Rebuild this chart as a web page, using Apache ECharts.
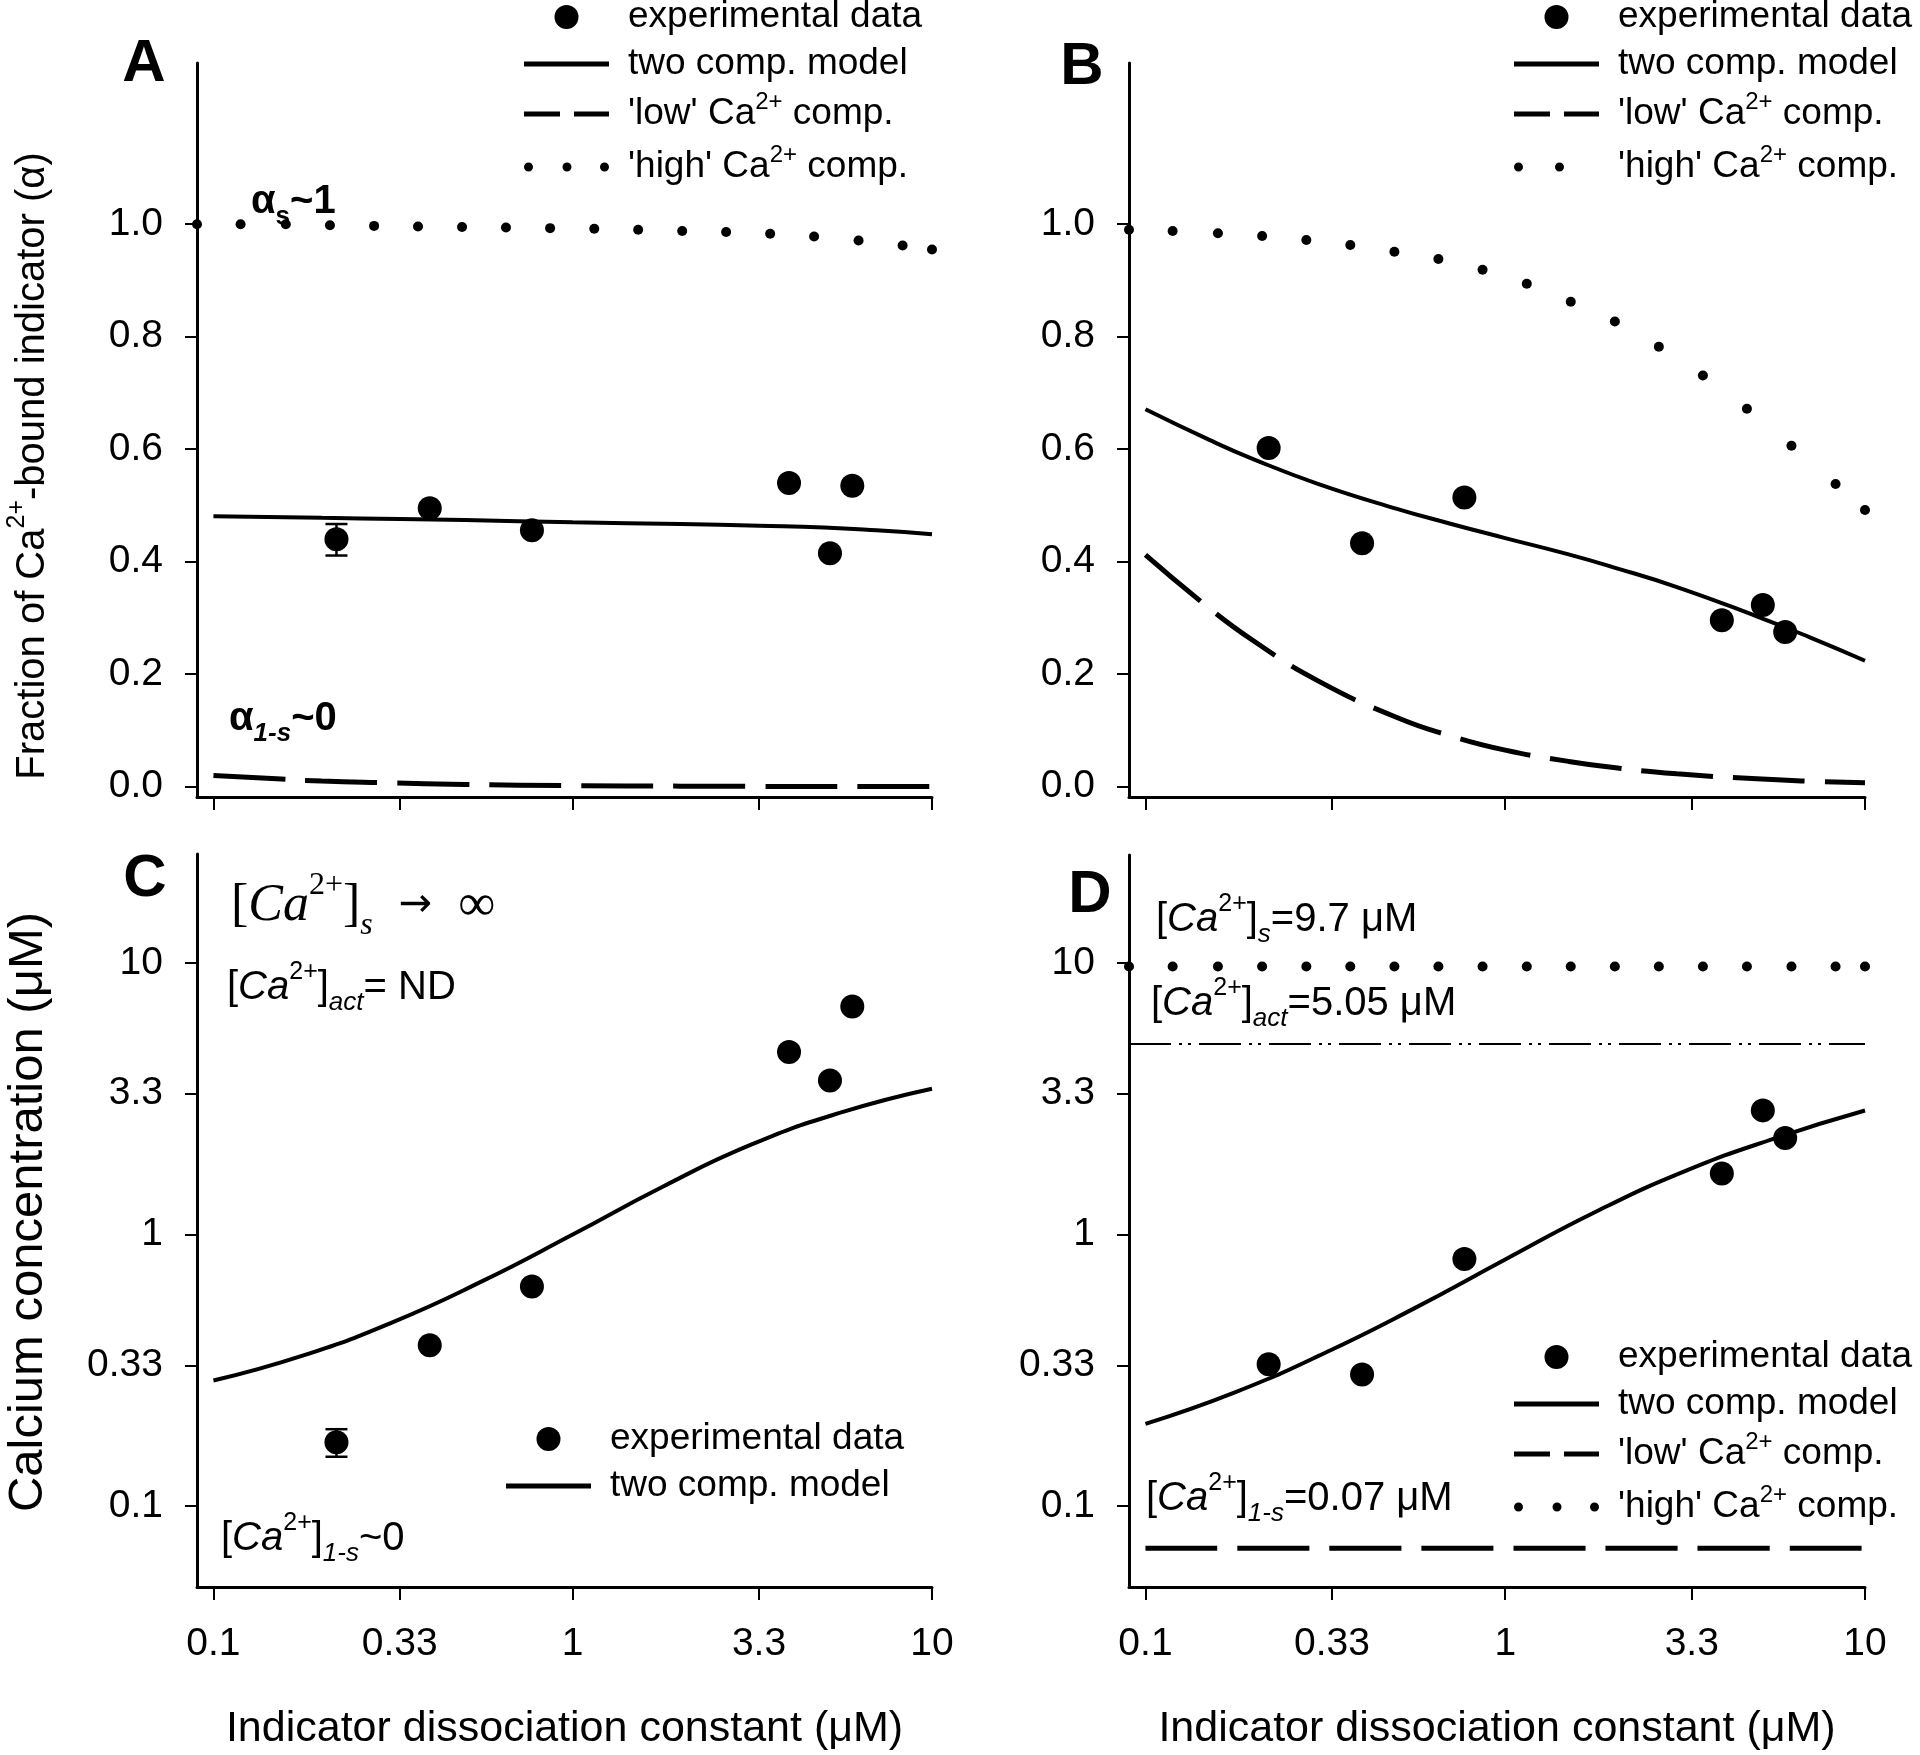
<!DOCTYPE html>
<html><head><meta charset="utf-8">
<script src="https://cdn.jsdelivr.net/npm/echarts@6/dist/echarts.min.js"></script>
<style>html,body{margin:0;padding:0;background:#fff}#c{width:1920px;height:1755px}</style>
</head><body><div id="c"></div>
<script>
// ---------------- data ----------------
const kd = [0.22, 0.40, 0.77, 4.0, 5.2, 6.0];
const alphaA = [0.440, 0.495, 0.456, 0.540, 0.415, 0.535];
const alphaB = [0.602, 0.433, 0.514, 0.296, 0.323, 0.275];
const caC = [0.172, 0.391, 0.643, 4.70, 3.69, 6.91];
const caD = [0.333, 0.305, 0.812, 1.676, 2.864, 2.267];
const errA = [[0.22, 0.411, 0.467]];
const errC = [[0.22, 0.152, 0.192]];

const modelAx = [0.1, 0.2, 0.33, 0.5, 1, 2, 3.3, 5, 7, 10];
const modelAy = [0.481, 0.478, 0.476, 0.474, 0.470, 0.467, 0.464, 0.461, 0.456, 0.449];
const lowAx = [0.1, 0.15, 0.2, 0.3, 0.5, 1, 2, 3.3, 5, 10];
const lowAy = [0.020, 0.014, 0.010, 0.007, 0.004, 0.002, 0.001, 0.0006, 0.0004, 0.0002];

const modelBx = [0.1, 0.15, 0.2, 0.3, 0.5, 0.7, 1, 1.5, 2, 3, 5, 7, 10];
const modelBy = [0.671, 0.617, 0.582, 0.539, 0.494, 0.468, 0.442, 0.413, 0.390, 0.355, 0.303, 0.266, 0.224];
const lowBx = [0.1, 0.15, 0.2, 0.3, 0.5, 0.7, 1, 1.5, 2, 3, 5, 7, 10];
const lowBy = [0.412, 0.318, 0.259, 0.189, 0.123, 0.091, 0.065, 0.045, 0.034, 0.023, 0.014, 0.0099, 0.0069];

const highX = [0.09, 0.119, 0.159, 0.211, 0.280, 0.371, 0.492, 0.652, 0.865, 1.148, 1.521, 2.017, 2.673, 3.544, 4.697, 6.246, 8.283, 10];
const highAy = [1.0, 1.0, 1.0, 0.998, 0.997, 0.996, 0.995, 0.994, 0.993, 0.992, 0.990, 0.988, 0.986, 0.983, 0.978, 0.971, 0.962, 0.955];
const highBy = [0.990, 0.988, 0.984, 0.979, 0.972, 0.963, 0.951, 0.938, 0.919, 0.894, 0.862, 0.827, 0.782, 0.731, 0.672, 0.606, 0.538, 0.492];
const highDy = [9.7, 9.7, 9.7, 9.7, 9.7, 9.7, 9.7, 9.7, 9.7, 9.7, 9.7, 9.7, 9.7, 9.7, 9.7, 9.7, 9.7, 9.7];

const modelCx = [0.1, 0.178, 0.316, 0.562, 1, 1.78, 3.16, 5.62, 10];
const modelCy = [0.290, 0.359, 0.476, 0.675, 1.00, 1.50, 2.15, 2.82, 3.44];
const modelDx = [0.1, 0.178, 0.316, 0.562, 1, 1.78, 3.16, 5.62, 10];
const modelDy = [0.201, 0.263, 0.367, 0.537, 0.809, 1.21, 1.71, 2.26, 2.86];
const lowDx = [0.1, 10];
const lowDy = [0.07, 0.07];
const actD = 5.05;

const xTicks = [0.1, 0.33, 1, 3.3, 10];
const xTickLabels = ['0.1', '0.33', '1', '3.3', '10'];
const yTicksAB = [0, 0.2, 0.4, 0.6, 0.8, 1.0];
const yTickLabelsAB = ['0.0', '0.2', '0.4', '0.6', '0.8', '1.0'];
const yTicksCD = [0.1, 0.33, 1, 3.3, 10];
const yTickLabelsCD = ['0.1', '0.33', '1', '3.3', '10'];

// ---------------- helpers ----------------
const FF = "'Liberation Sans', Arial, Helvetica, sans-serif";
const SERIF = "'Liberation Serif', 'Times New Roman', serif";
const zip = (a, b) => a.map((v, i) => [v, b[i]]);
function lookup(vals, labels) {
  return function (v) {
    let best = 0, bd = Infinity;
    vals.forEach((t, i) => { const d = Math.abs(Math.log(Math.abs(t) + 1e-9) - Math.log(Math.abs(v) + 1e-9)); if (d < bd) { bd = d; best = i; } });
    return labels[best];
  };
}
function lookupLin(vals, labels) {
  return function (v) {
    let best = 0, bd = Infinity;
    vals.forEach((t, i) => { const d = Math.abs(t - v); if (d < bd) { bd = d; best = i; } });
    return labels[best];
  };
}
const axLine = { show: true, onZero: false, lineStyle: { color: '#000', width: 3 } };

function xAxis(gi, labels) {
  return {
    type: 'log', logBase: 10, gridIndex: gi, min: 0.09, max: 10,
    axisLine: axLine,
    axisTick: { show: true, length: 13, customValues: xTicks, lineStyle: { color: '#000', width: 2 } },
    axisLabel: { show: labels, customValues: xTicks, formatter: lookup(xTicks, xTickLabels), margin: 34, fontSize: 39, lineHeight: 46, color: '#000', fontFamily: FF },
    minorTick: { show: false }, splitLine: { show: false },
    name: labels ? 'Indicator dissociation constant (μM)' : '',
    nameLocation: 'middle', nameGap: 117,
    nameTextStyle: { fontSize: 43, lineHeight: 50, color: '#000', fontFamily: FF }
  };
}
function yAxisLin(gi) {
  return {
    type: 'value', gridIndex: gi, min: -0.0183, max: 1.2866,
    axisLine: axLine,
    axisTick: { show: true, length: 12, customValues: yTicksAB, lineStyle: { color: '#000', width: 2 } },
    axisLabel: { customValues: yTicksAB, formatter: lookupLin(yTicksAB, yTickLabelsAB), margin: 34, fontSize: 39, color: '#000', fontFamily: FF },
    splitLine: { show: false }
  };
}
function yAxisLog(gi, max) {
  return {
    type: 'log', logBase: 10, gridIndex: gi, min: 0.0504, max: max,
    axisLine: axLine,
    axisTick: { show: true, length: 12, customValues: yTicksCD, lineStyle: { color: '#000', width: 2 } },
    axisLabel: { customValues: yTicksCD, formatter: lookup(yTicksCD, yTickLabelsCD), margin: 34, fontSize: 39, color: '#000', fontFamily: FF },
    minorTick: { show: false }, splitLine: { show: false }
  };
}
function errBar(params, api) {
  const x = api.value(0), lo = api.value(1), hi = api.value(2);
  const p1 = api.coord([x, hi]), p2 = api.coord([x, lo]);
  const hw = 11, st = { stroke: '#000', lineWidth: 2.5 };
  return { type: 'group', children: [
    { type: 'line', shape: { x1: p1[0], y1: p1[1], x2: p2[0], y2: p2[1] }, style: st },
    { type: 'line', shape: { x1: p1[0] - hw, y1: p1[1], x2: p1[0] + hw, y2: p1[1] }, style: st },
    { type: 'line', shape: { x1: p2[0] - hw, y1: p2[1], x2: p2[0] + hw, y2: p2[1] }, style: st }
  ] };
}
const N_EXP = 'experimental data', N_MOD = 'two comp. model', N_LOW = "'low' Ca2+ comp.", N_HIGH = "'high' Ca2+ comp.";
const SM = 0.5;
function expSeries(gi, ys) {
  return { type: 'scatter', name: N_EXP, xAxisIndex: gi, yAxisIndex: gi, data: zip(kd, ys), symbol: 'circle', symbolSize: 24, itemStyle: { color: '#000', opacity: 1 }, z: 6 };
}
function modelSeries(gi, xs, ys, extra) {
  return Object.assign({ type: 'line', name: N_MOD, xAxisIndex: gi, yAxisIndex: gi, data: zip(xs, ys), smooth: SM, symbol: 'none', lineStyle: { color: '#000', width: 4 }, itemStyle: { color: '#000' }, z: 3 }, extra || {});
}
function lowSeries(gi, xs, ys) {
  return { type: 'line', name: N_LOW, xAxisIndex: gi, yAxisIndex: gi, data: zip(xs, ys), smooth: SM, symbol: 'none', lineStyle: { color: '#000', width: 5, type: [72, 20] }, itemStyle: { color: '#000' }, z: 3 };
}
function highSeries(gi, ys) {
  return { type: 'scatter', name: N_HIGH, xAxisIndex: gi, yAxisIndex: gi, data: zip(highX, ys), symbol: 'circle', symbolSize: 10, itemStyle: { color: '#000', opacity: 1 }, z: 4 };
}
function errSeries(gi, data) {
  return { type: 'custom', name: 'error', xAxisIndex: gi, yAxisIndex: gi, coordinateSystem: 'cartesian2d', renderItem: errBar, data: data, encode: { x: 0, y: [1, 2] }, z: 5 };
}
// legend sample icons (legend graphics, not data)
const solidIcon = 'path://M0,0H85V5H0Z';
const dashIcon = 'path://M0,0H36V5H0Z M50,0H85V5H50Z';
const threeDots = 'path://M0,4.5a4.5,4.5 0 1,0 9,0a4.5,4.5 0 1,0 -9,0Z M38.5,4.5a4.5,4.5 0 1,0 9,0a4.5,4.5 0 1,0 -9,0Z M76,4.5a4.5,4.5 0 1,0 9,0a4.5,4.5 0 1,0 -9,0Z';
const twoDots = 'path://M0,4.5a4.5,4.5 0 1,0 9,0a4.5,4.5 0 1,0 -9,0Z M41,4.5a4.5,4.5 0 1,0 9,0a4.5,4.5 0 1,0 -9,0Z M84.5,4.4 L85,4.4 L85,4.6 L84.5,4.6Z';
const legendRich = {
  n: { fontSize: 37, lineHeight: 48, fontFamily: FF, color: '#000' },
  sup: { fontSize: 24, lineHeight: 24, verticalAlign: 'top', fontFamily: FF, color: '#000' }
};
const legendNames = {};
legendNames[N_EXP] = 'experimental data';
legendNames[N_MOD] = 'two comp. model';
legendNames[N_LOW] = "{n|'low' Ca}{sup|2+}{n| comp.}";
legendNames[N_HIGH] = "{n|'high' Ca}{sup|2+}{n| comp.}";
const iconStyle = { color: '#000', borderWidth: 0, opacity: 1 };
function legend(left, top, items) {
  return {
    orient: 'vertical', left: left, top: top, padding: 0, itemGap: 5, itemWidth: 85, itemHeight: 24,
    selectedMode: false, data: items, formatter: n => legendNames[n],
    itemStyle: { borderWidth: 0 },
    textStyle: { fontSize: 37, lineHeight: 42, fontFamily: FF, color: '#000', padding: [0, 0, 0, 14], rich: legendRich }
  };
}
const legItems = (dotIcon) => [
  { name: N_EXP, icon: 'circle', itemStyle: iconStyle },
  { name: N_MOD, icon: solidIcon, itemStyle: iconStyle },
  { name: N_LOW, icon: dashIcon, itemStyle: iconStyle },
  { name: N_HIGH, icon: dotIcon, itemStyle: iconStyle }
];

const annRich = {
  n: { fontSize: 40, lineHeight: 56, fontFamily: FF, color: '#000' },
  i: { fontSize: 40, lineHeight: 56, fontStyle: 'italic', fontFamily: FF, color: '#000' },
  sup: { fontSize: 25, lineHeight: 36, verticalAlign: 'top', fontFamily: FF, color: '#000' },
  sub: { fontSize: 26, lineHeight: 26, verticalAlign: 'bottom', fontStyle: 'italic', fontFamily: FF, color: '#000' },
  b: { fontSize: 40, lineHeight: 56, fontWeight: 'bold', fontFamily: FF, color: '#000' },
  bsub: { fontSize: 26, lineHeight: 26, verticalAlign: 'bottom', fontWeight: 'bold', fontFamily: FF, color: '#000' },
  bsubi: { fontSize: 26, lineHeight: 26, verticalAlign: 'bottom', fontStyle: 'italic', fontWeight: 'bold', fontFamily: FF, color: '#000' },
  tn: { fontSize: 52, lineHeight: 72, fontFamily: SERIF, color: '#000' },
  ti: { fontSize: 52, lineHeight: 72, fontStyle: 'italic', fontFamily: SERIF, color: '#000' },
  tar: { fontSize: 40, lineHeight: 72, fontFamily: "'DejaVu Sans', sans-serif", color: '#000' },
  tsup: { fontSize: 32, lineHeight: 44, verticalAlign: 'top', fontFamily: SERIF, color: '#000' },
  tsub: { fontSize: 32, lineHeight: 32, verticalAlign: 'bottom', fontStyle: 'italic', fontFamily: SERIF, color: '#000' },
  tit: { fontSize: 40, lineHeight: 56, fontFamily: FF, color: '#000' },
  tsp: { fontSize: 25, lineHeight: 36, verticalAlign: 'top', fontFamily: FF, color: '#000' },
  big: { fontSize: 49, lineHeight: 60, fontFamily: FF, color: '#000' }
};
function ann(x, y, text) {
  return { type: 'text', x: x, y: y, style: { text: text, rich: annRich, align: 'left', verticalAlign: 'middle', fill: '#000' } };
}
function letter(x, y, t) {
  return { type: 'text', x: x, y: y, style: { text: t, fontSize: 60, fontWeight: 'bold', fontFamily: FF, fill: '#000', align: 'center', verticalAlign: 'middle' } };
}

const option = {
  animation: false,
  backgroundColor: '#fff',
  grid: [
    { left: 197, top: 63, width: 735, height: 734 },
    { left: 1129, top: 63, width: 736, height: 734 },
    { left: 197, top: 854, width: 735, height: 734 },
    { left: 1129, top: 855, width: 736, height: 733 }
  ],
  xAxis: [xAxis(0, false), xAxis(1, false), xAxis(2, true), xAxis(3, true)],
  yAxis: [yAxisLin(0), yAxisLin(1), yAxisLog(2, 25.16), yAxisLog(3, 24.95)],
  legend: [
    legend(524, -4, legItems(threeDots)),
    legend(1514, -4, legItems(twoDots)),
    legend(506, 1418, [{ name: N_EXP, icon: 'circle', itemStyle: iconStyle }, { name: N_MOD, icon: solidIcon, itemStyle: iconStyle }]),
    legend(1514, 1336, legItems(threeDots))
  ],
  series: [
    // A
    modelSeries(0, modelAx, modelAy), lowSeries(0, lowAx, lowAy), highSeries(0, highAy), errSeries(0, errA), expSeries(0, alphaA),
    // B
    modelSeries(1, modelBx, modelBy), lowSeries(1, lowBx, lowBy), highSeries(1, highBy), expSeries(1, alphaB),
    // C
    modelSeries(2, modelCx, modelCy), errSeries(2, errC), expSeries(2, caC),
    // D
    modelSeries(3, modelDx, modelDy, { markLine: { silent: true, symbol: 'none', label: { show: false }, lineStyle: { color: '#000', width: 2, type: [42, 8, 3, 6, 3, 8] }, data: [{ yAxis: actD }] } }),
    lowSeries(3, lowDx, lowDy), highSeries(3, highDy), expSeries(3, caD)
  ],
  graphic: [
    letter(144, 64, 'A'), letter(1082, 67, 'B'), letter(145, 879, 'C'), letter(1090, 895, 'D'),
    { type: 'text', x: 33, y: 466, rotation: Math.PI / 2, style: { text: '{tit|Fraction of Ca}{tsp|2+}{tit|-bound indicator (α)}', rich: annRich, align: 'center', verticalAlign: 'middle' } },
    { type: 'text', x: 28, y: 1212, rotation: Math.PI / 2, style: { text: '{big|Calcium concentration (μM)}', rich: annRich, align: 'center', verticalAlign: 'middle' } },
    ann(251, 202, '{b|α}{bsub|s}{b|~1}'),
    ann(229, 719, '{b|α}{bsubi|1-s}{b|~0}'),
    ann(231, 906, '{tn|[}{ti|Ca}{tsup|2+}{tn|]}{tsub|s}{tn|  }{tar|→}{tn|  ∞}'),
    ann(227, 988, '{n|[}{i|Ca}{sup|2+}{n|]}{sub|act}{n|= ND}'),
    ann(221, 1539, '{n|[}{i|Ca}{sup|2+}{n|]}{sub|1-s}{n|~0}'),
    ann(1156, 920, '{n|[}{i|Ca}{sup|2+}{n|]}{sub|s}{n|=9.7 μM}'),
    ann(1151, 1004, '{n|[}{i|Ca}{sup|2+}{n|]}{sub|act}{n|=5.05 μM}'),
    ann(1146, 1499, '{n|[}{i|Ca}{sup|2+}{n|]}{sub|1-s}{n|=0.07 μM}')
  ]
};
const chart = echarts.init(document.getElementById('c'), null, { renderer: 'canvas' });
chart.setOption(option);
</script>
</body></html>
